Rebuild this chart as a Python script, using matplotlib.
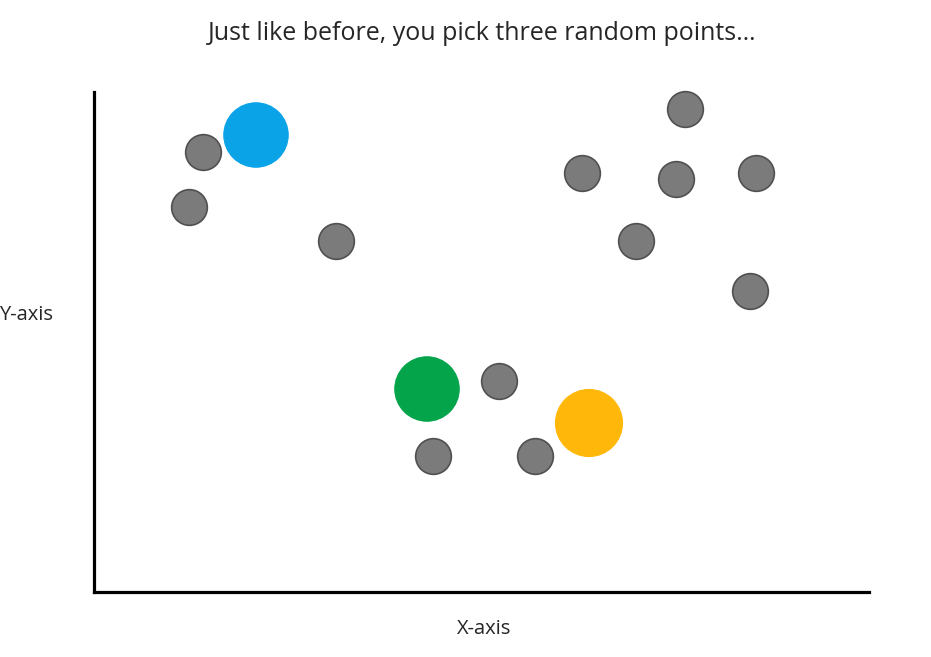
import matplotlib
matplotlib.use("Agg")
import matplotlib.pyplot as plt

# Data (arbitrary units: x to the right of the y-axis, y above the x-axis)
gray_x = [109, 95, 242, 488, 591, 582, 662, 542, 656, 405, 339, 441]
gray_y = [440, 385, 351, 419, 483, 413, 419, 351, 301, 211, 136, 136]
picked_x = [162, 333, 495]
picked_y = [457, 203, 169]
picked_colors = ["#0AA3E8", "#03A44A", "#FFB80A"]
picked_sizes = [2150, 2150, 2330]

title = "Just like before, you pick three random points\u2026"
xlabel = "X-axis"
ylabel = "Y-axis"

W, H = 931, 657
fig = plt.figure(figsize=(W / 100, H / 100), dpi=100)
ax = fig.add_axes([94 / W, 1 - 592 / H, (869 - 94) / W, (592 - 92) / H])
ax.set_xlim(0, 775)
ax.set_ylim(0, 500)

ax.scatter(gray_x, gray_y, s=660, c="#7B7B7B", edgecolors="#505050",
           linewidths=1.2, zorder=3, clip_on=False)
ax.scatter(picked_x, picked_y, s=picked_sizes, c=picked_colors,
           edgecolors=picked_colors, linewidths=0.8, zorder=3, clip_on=False)

for side in ["top", "right"]:
    ax.spines[side].set_visible(False)
for side in ["left", "bottom"]:
    ax.spines[side].set_linewidth(2.3)
    ax.spines[side].set_color("black")
ax.set_xticks([])
ax.set_yticks([])

fam = ["Open Sans", "DejaVu Sans"]
fig.text(482.5 / W, 1 - 34 / H, title, ha="center", va="center",
         fontsize=18, family=fam, color="#262626")
fig.text(484 / W, 1 - 629 / H, xlabel, ha="center", va="center",
         fontsize=14.5, family=fam, color="#262626")
fig.text(26 / W, 1 - 315 / H, ylabel, ha="center", va="center",
         fontsize=14.5, family=fam, color="#262626")

fig.savefig("out.png", dpi=100, facecolor="white")
